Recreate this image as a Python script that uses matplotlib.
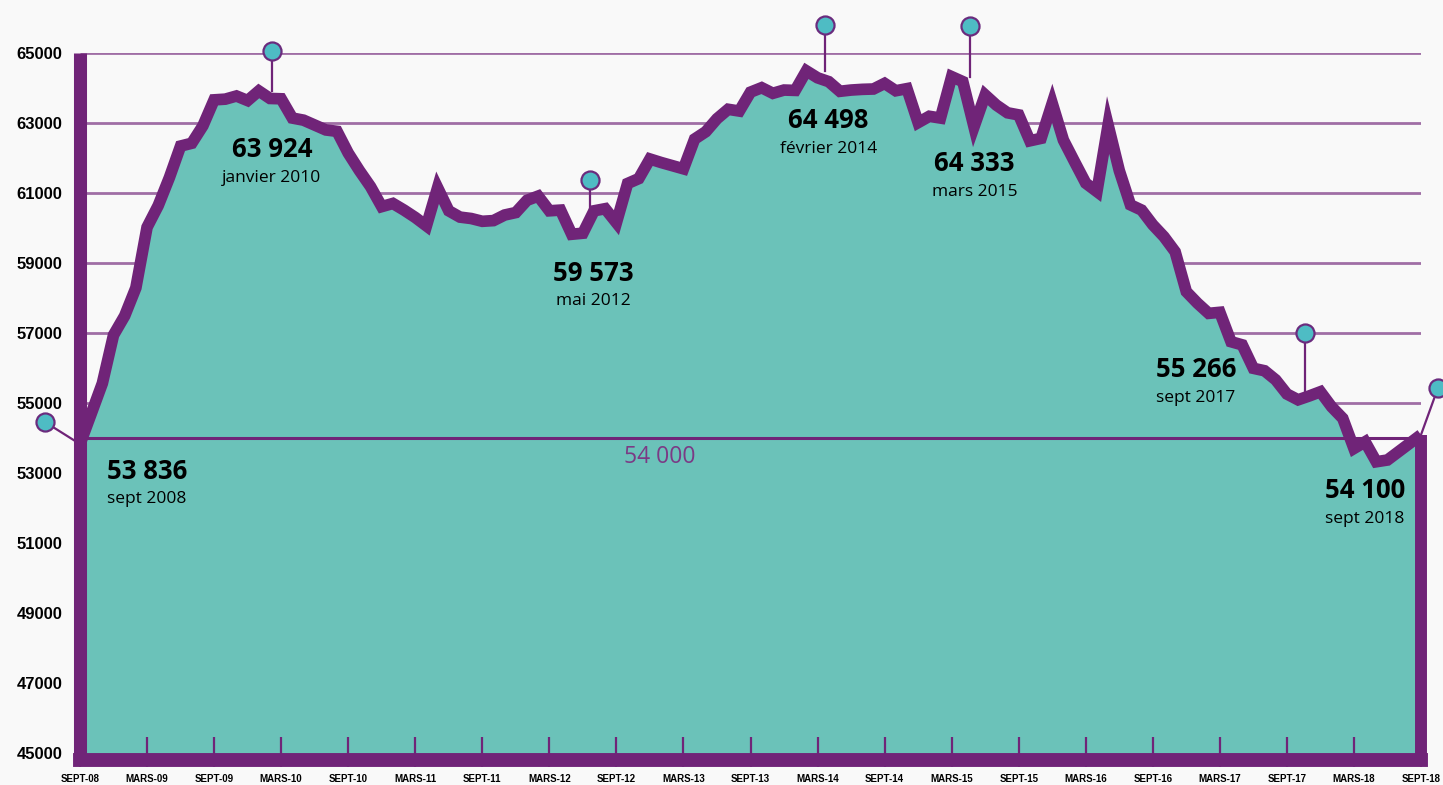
"""
Evolution 2008-2018 — area chart with callouts.
"""

import matplotlib
matplotlib.use("Agg")
import matplotlib.pyplot as plt

# ── data ──────────────────────────────────────────────────────────
# one value per month, sept 2008 (0) -> sept 2018 (120)
values = [
    53836, 54700, 55570, 56950, 57500, 58300, 60030, 60650, 61450, 62350,
    62430, 62930, 63670, 63690, 63780, 63650, 63924, 63710, 63700, 63150,
    63090, 62950, 62810, 62770, 62150, 61650, 61190, 60620, 60710, 60520,
    60310, 60070, 61160, 60500, 60320, 60280, 60200, 60220, 60380, 60450,
    60800, 60920, 60500, 60520, 59830, 59860, 60500, 60560, 60160, 61280,
    61420, 61980, 61880, 61790, 61700, 62550, 62760, 63130, 63400, 63350,
    63890, 64017, 63857, 63950, 63940, 64498, 64300, 64190, 63914, 63950,
    63970, 63980, 64140, 63930, 63990, 63020, 63200, 63150, 64333, 64190,
    62900, 63810, 63520, 63300, 63240, 62500, 62570, 63570, 62520, 61900,
    61290, 61050, 62950, 61650, 60670, 60520, 60100, 59760, 59330, 58190,
    57860, 57570, 57600, 56760, 56670, 56000, 55930, 55670, 55266, 55100,
    55210, 55330, 54900, 54570, 53710, 53900, 53330, 53380, 53620, 53860,
    54100,
]
months = list(range(len(values)))

tick_months = list(range(0, 121, 6))
tick_labels = ["SEPT-08", "MARS-09", "SEPT-09", "MARS-10", "SEPT-10",
               "MARS-11", "SEPT-11", "MARS-12", "SEPT-12", "MARS-13",
               "SEPT-13", "MARS-14", "SEPT-14", "MARS-15", "SEPT-15",
               "MARS-16", "SEPT-16", "MARS-17", "SEPT-17", "MARS-18",
               "SEPT-18"]
y_ticks = list(range(45000, 65001, 2000))

ref_value = 54000
ref_label = "54 000"

ann_months = [0, 16, 44, 65, 78, 108, 120]
ann_values = [53836, 63924, 59573, 64498, 64333, 55266, 54100]
ann_dates = ["sept 2008", "janvier 2010", "mai 2012", "février 2014",
             "mars 2015", "sept 2017", "sept 2018"]

# ── layout / style (pixels, y up) ─────────────────────────────────
text_off = [(67, -27), (13, -59), (22, -30), (22, -50),
            (23, -87), (-91, 24), (-56, -56)]
circ_off = [(-35, 22), (13, 40), (18, 63), (19, 46),
            (18, 51), (18, 61), (17, 47)]
vertical = [False, True, True, True, True, True, False]

BG = "#F9F9F9"
TEAL = "#6BC2B9"
PURPLE = "#702478"
GRID = "#A06EA5"
DOT = "#4EBCC4"
FLOOR = 44809

W, H = 1443, 785
fig = plt.figure(figsize=(W / 100, H / 100), dpi=100)
fig.patch.set_facecolor(BG)
ax = fig.add_axes([80 / W, (H - 767) / H, (1421 - 80) / W, (767 - 53.3) / H])
ax.set_xlim(0, 120)
ax.set_ylim(44609, 65000)
ax.set_facecolor("none")
for s in ax.spines.values():
    s.set_visible(False)
ax.set_axisbelow(False)

# grid behind the area
ax.hlines(y_ticks[1:], 0, 120, color=GRID, lw=2.0, zorder=1)

# area + line
ax.fill_between(months, values, FLOOR, color=TEAL, lw=0, zorder=2)
ax.plot(months, values, color=PURPLE, lw=8.4, solid_joinstyle="miter",
        solid_capstyle="butt", zorder=4)

# frame bars
ax.plot([0, 0], [FLOOR, 65000], color=PURPLE, lw=9.4,
        solid_capstyle="butt", zorder=5, clip_on=False)
ax.plot([0, 120], [FLOOR, FLOOR], color=PURPLE, lw=10,
        solid_capstyle="projecting", zorder=5, clip_on=False)
ax.plot([120, 120], [FLOOR, values[-1]], color=PURPLE, lw=8.6,
        solid_capstyle="butt", zorder=5, clip_on=False)

# reference line
ax.hlines(ref_value, 0, 120, color=PURPLE, lw=2.2, zorder=3)
ax.annotate(ref_label, xy=(51.9, ref_value), xytext=(0, -19),
            textcoords="offset pixels", ha="center", va="center",
            fontsize=16.5, color="#7B3A85", family=["Open Sans", "DejaVu Sans"],
            zorder=7)

# axes ticks
ax.set_xticks(tick_months, tick_labels)
ax.tick_params(axis="x", direction="in", length=21.6, width=1.6,
               color=PURPLE, pad=5, labelsize=7)
for t in ax.get_xticklabels():
    t.set_fontweight("bold")
    t.set_family(["Liberation Sans", "DejaVu Sans"])
ax.set_yticks(y_ticks, [str(v) for v in y_ticks])
ax.tick_params(axis="y", length=0, pad=12.5, labelsize=12)
for t in ax.get_yticklabels():
    t.set_fontweight("bold")
    t.set_family(["Liberation Sans", "DejaVu Sans"])

# callouts: connector + dot, big value, date below
inv = ax.transData.inverted()
for m, v, d, (tx, ty), (cx, cy), vert in zip(ann_months, ann_values, ann_dates,
                                             text_off, circ_off, vertical):
    x0, y0 = ax.transData.transform((m, v))
    p1 = inv.transform((x0 + (cx if vert else 0), y0))
    p2 = inv.transform((x0 + cx, y0 + cy))
    ax.plot([p1[0], p2[0]], [p1[1], p2[1]], color=PURPLE, lw=1.6,
            zorder=1.8, clip_on=False)
    ax.plot([p2[0]], [p2[1]], "o", ms=13, mfc=DOT, mec="#6B2C7E", mew=1.6,
            zorder=6, clip_on=False)
    ax.annotate(f"{v:,}".replace(",", " "), xy=(m, v), xytext=(tx, ty),
                textcoords="offset pixels", ha="center", va="center",
                fontsize=18.5, fontweight="bold", color="black",
                family=["Open Sans", "DejaVu Sans"], zorder=7,
                annotation_clip=False)
    ax.annotate(d, xy=(m, v), xytext=(tx, ty - 28),
                textcoords="offset pixels", ha="center", va="center",
                fontsize=12.5, color="black",
                family=["Open Sans", "DejaVu Sans"], zorder=7,
                annotation_clip=False)

fig.savefig("out.png", dpi=100, facecolor=BG)
